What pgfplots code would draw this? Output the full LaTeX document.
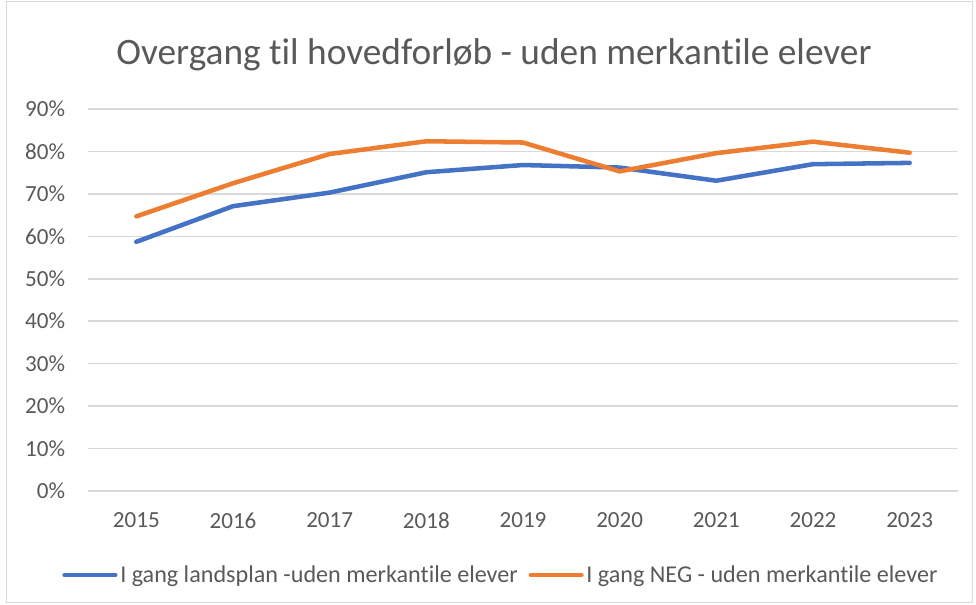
\documentclass[border=0pt]{standalone}
\usepackage{pgfplots}
\pgfplotsset{compat=1.18}
\usepackage{fontspec}
\setmainfont{Carlito}[Ligatures={NoRequired,NoCommon,NoContextual}]
\definecolor{txt}{HTML}{595959}
\definecolor{grd}{HTML}{D9D9D9}
\definecolor{cblue}{HTML}{4472C4}
\definecolor{corange}{HTML}{ED7D31}
\begin{document}
\begin{tikzpicture}
\useasboundingbox (-66pt,-85.5pt) rectangle (666pt,368.25pt);
\draw[grd, line width=0.75pt] (-60.75pt,-84pt) rectangle (663pt,366.75pt);
\node[anchor=base, text=txt, font=\fontsize{28}{32}\selectfont, inner sep=0pt] at (304.5pt,319.5pt) {Overgang til hovedforløb - uden merkantile elever};
\begin{axis}[
  at={(0pt,0pt)}, anchor=south west,
  scale only axis, width=652.5pt, height=286.5pt,
  xmin=2014.5, xmax=2023.5, ymin=0, ymax=90,
  xtick={2015,2016,2017,2018,2019,2020,2021,2022,2023},
  ytick={0,10,20,30,40,50,60,70,80,90},
  /pgf/number format/1000 sep={},
  /pgf/number format/assume math mode=true,
  yticklabel={\pgfmathprintnumber{\tick}\%},
  axis line style={draw=none},
  major tick style={draw=none},
  ymajorgrids, grid style={grd, line width=1.2pt},
  tick label style={text=txt, font=\fontsize{17.3}{20}\selectfont},
  yticklabel style={inner sep=0pt, xshift=-17pt},
  xticklabel style={inner sep=0pt, yshift=-16pt},
  legend style={at={(axis description cs:0.475,-0.22)}, anchor=center, draw=none, fill=none,
    font=\fontsize{18.1}{21}\selectfont, text=txt, legend columns=2,
    /tikz/every even column/.append style={column sep=6pt}},
  legend image code/.code={\draw[#1, line cap=round] (0pt,0pt) -- (38pt,0pt);},
  clip=false,
]
\addplot[cblue, line width=3.4pt, line join=round, line cap=round] coordinates {
(2015,58.7) (2016,67.1) (2017,70.3) (2018,75.1) (2019,76.8) (2020,76.2) (2021,73.1) (2022,77.0) (2023,77.3)};
\addlegendentry{I gang landsplan -uden merkantile elever}
\addplot[corange, line width=3.4pt, line join=round, line cap=round] coordinates {
(2015,64.7) (2016,72.5) (2017,79.4) (2018,82.4) (2019,82.1) (2020,75.3) (2021,79.6) (2022,82.3) (2023,79.7)};
\addlegendentry{I gang NEG - uden merkantile elever}
\end{axis}
\end{tikzpicture}
\end{document}
